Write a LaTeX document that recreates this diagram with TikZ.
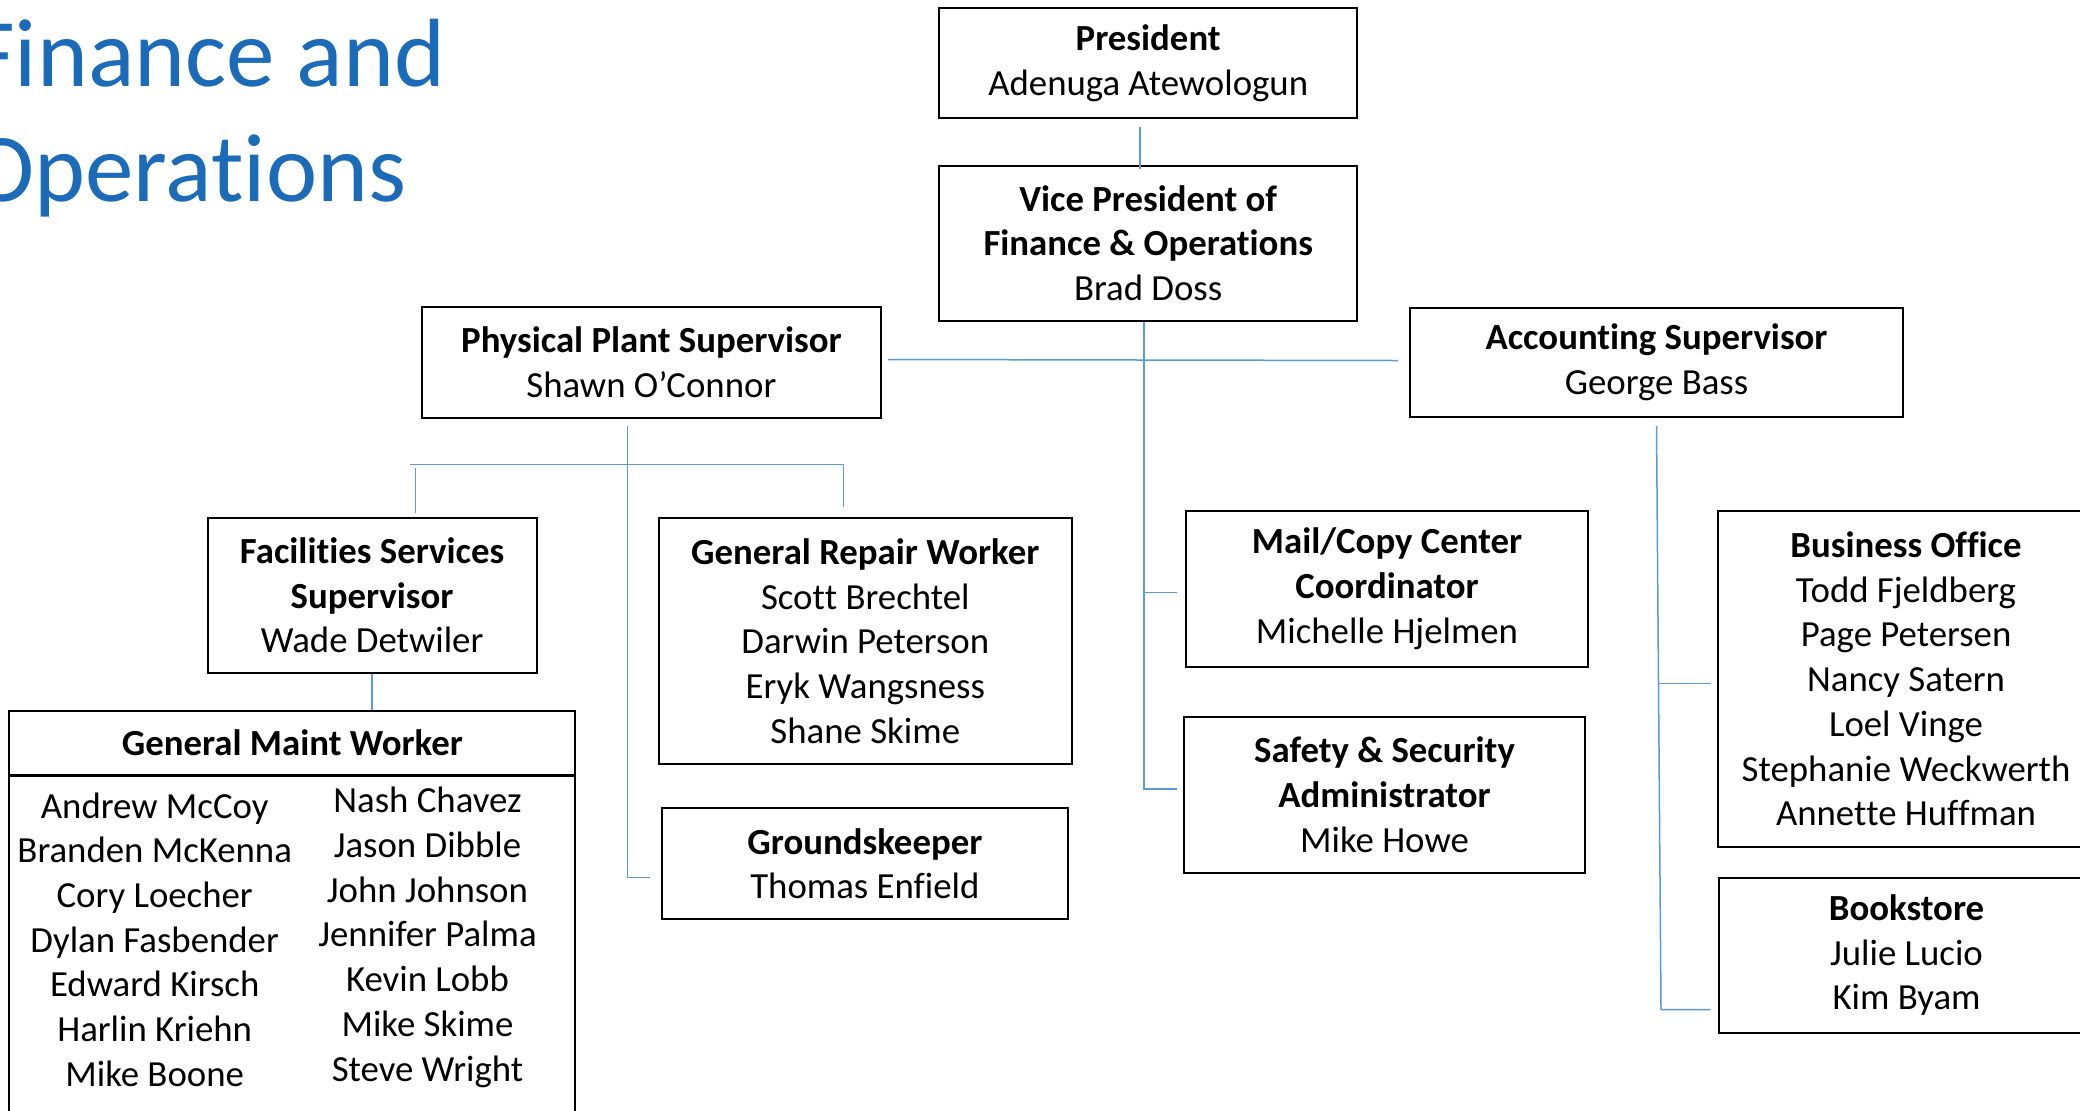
\documentclass[tikz,border=0pt]{standalone}
\usepackage{fontspec}
\setmainfont[RawFeature={-liga;-clig;-calt;-dlig;-hlig}]{Carlito}
\newcommand\zk{\kern0pt }
\definecolor{titleblue}{RGB}{28,107,184}
\definecolor{connc}{RGB}{91,155,213}
\begin{document}
\begin{tikzpicture}[x=0.5pt,y=-0.5pt,
  box/.style={draw=black, line width=1pt, fill=white, align=center, inner sep=0pt,
    font=\fontsize{18.4pt}{22.35pt}\selectfont},
  txt/.style={align=center, inner sep=0pt, font=\fontsize{18.4pt}{22.35pt}\selectfont},
  sz/.style 2 args={minimum width={#1*0.5pt}, minimum height={#2*0.5pt}},
  conn/.style={draw=connc, line width=0.75pt},
  ttl/.style={anchor=base west, inner sep=0pt, text=titleblue, font=\fontsize{48.5pt}{57pt}\selectfont}]
\useasboundingbox (0,0) rectangle (2080,1110);
\fill[white] (0,0) rectangle (2080,1110);

% title
\node[ttl] (t1) at (-30,86) {Finance and};
\node[ttl] (t2) at (-30,201) {Operat\zk ions};

% boxes
\node[box,sz={417.6}{110.3}] (pres) at (1148.2,63.2) {\textbf{President}\\Adenuga Atewologun};
\node[box,sz={417.6}{155}] (vp) at (1148.2,243.2) {\textbf{Vice President of}\\\textbf{Finance \& Operat\zk ions}\\Brad Doss};
\node[box,sz={459.3}{110.4}] (pp) at (651.4,362.5) {\textbf{Physical Plant Supervisor}\\Shawn O’Connor};
\node[box,sz={493}{109.6}] (acc) at (1656.5,362.5) {\textbf{Account\zk ing Supervisor}\\George Bass};
\node[box,sz={329}{155}] (fac) at (372.1,595.3) {\textbf{Facilit\zk ies Services}\\\textbf{Supervisor}\\Wade Detwiler};
\node[box,sz={566}{360},anchor=north] (gmwb) at (292.4,774.6) {};
\node[box,sz={566}{64}] (gmwh) at (292.4,742.5) {\textbf{General Maint Worker}};
\node[txt] (gl) at (154.7,939.6) {Andrew McCoy\\Branden McKenna\\Cory Loecher\\Dylan Fasbender\\Edward Kirsch\\Harlin Kriehn\\Mike Boone};
\node[txt] (gr) at (427.5,937.3) {Nash Chavez\\Jason Dibble\\John Johnson\\Jennifer Palma\\Kevin Lobb\\Mike Skime\\Steve Wright};
\node[box,sz={412.6}{245.7}] (grw) at (865.3,641.2) {\textbf{General Repair Worker}\\Scot\zk t Brechtel\\Darwin Peterson\\Eryk Wangsness\\Shane Skime};
\node[box,sz={406}{110.7}] (gk) at (864.9,863.6) {\textbf{Groundskeeper}\\Thomas Enfield};
\node[box,sz={402}{156}] (mail) at (1387,588.7) {\textbf{Mail/Copy Center}\\\textbf{Coordinator}\\Michelle Hjelmen};
\node[box,sz={401}{156}] (safe) at (1384.5,794.7) {\textbf{Safety \& Security}\\\textbf{Administrator}\\Mike Howe};
\node[box,sz={376}{335.8}] (bus) at (1906,678.9) {\textbf{Business Of\zk f\zk ice}\\Todd Fjeldberg\\Page Petersen\\Nancy Satern\\Loel Vinge\\Stephanie Weckwerth\\Annet\zk te Huf\zk fman};
\node[box,sz={375}{155}] (book) at (1906.5,955.3) {\textbf{Bookstore}\\Julie Lucio\\Kim Byam};

% connectors
\draw[conn] ([shift={(-8,8)}]pres.south) -- ([shift={(-8,4)}]vp.north);
\draw[conn] ([xshift=-2.2pt]vp.south) |- ([shift={(-6.5,-5.7)}]safe.west);
\draw[conn] ([shift={(-42.2,4)}]mail.west) -- ([shift={(-8.5,4)}]mail.west);
\draw[conn] ([shift={(5.7,-3)}]pp.east) -- ([shift={(-11,-2)}]acc.west);
\draw[conn] ([shift={(-23.9,7.3)}]pp.south) |- ([shift={(-10.8,14.1)}]gk.west);
\coordinate (hl) at (410,464.3);
\draw[conn] (hl) -| ([shift={(-21.8,-10)}]grw.north);
\draw[conn] ([shift={(43.5,-48.8)}]fac.north) -- ([shift={(43.5,-4.3)}]fac.north);
\draw[conn] (fac.south) -- (fac.south |- gmwh.north);
\draw[conn] ([shift={(0,7.7)}]acc.south) -- ([shift={(-57,54.2)}]book.west) -- ([shift={(-7.5,54.2)}]book.west);
\draw[conn] ([shift={(-59,4.4)}]bus.west) -- ([shift={(-6,4.4)}]bus.west);
\end{tikzpicture}
\end{document}
